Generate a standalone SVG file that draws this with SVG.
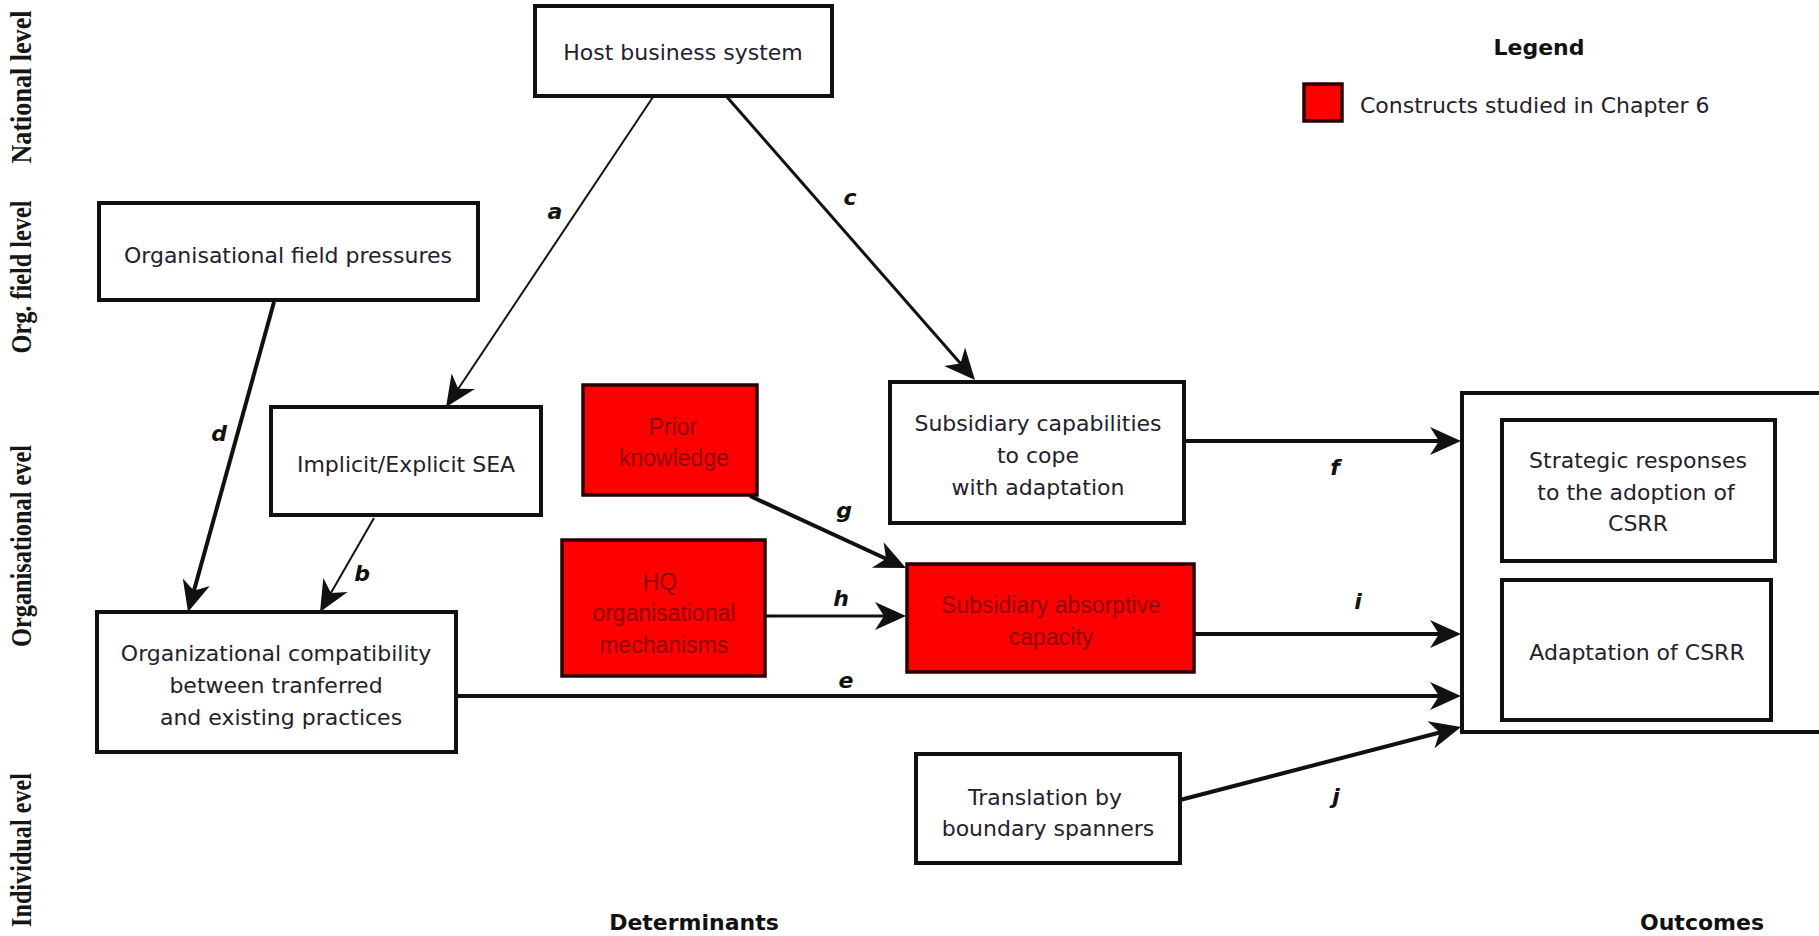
<svg xmlns="http://www.w3.org/2000/svg" width="1819" height="936" viewBox="0 0 1819 936">
  <style>
    .box { fill: #ffffff; stroke: #111111; stroke-width: 4; }
    .red { fill: #ff0000; stroke: #2a0000; stroke-width: 3.5; }
    .t { font-family: "DejaVu Sans", Verdana, sans-serif; font-size: 22px; fill: #24202c; text-anchor: middle; dominant-baseline: central; }
    .rt { font-family: "Liberation Sans", Arial, sans-serif; font-size: 23px; fill: #8e0000; text-anchor: middle; dominant-baseline: central; }
    .lbl { font-family: "DejaVu Sans", Verdana, sans-serif; font-size: 22px; font-weight: bold; font-style: italic; fill: #111111; text-anchor: middle; dominant-baseline: central; }
    .lvl { font-family: "Liberation Serif", "Times New Roman", serif; font-size: 23px; font-weight: bold; fill: #161616; text-anchor: middle; dominant-baseline: central; }
    .hd { font-family: "DejaVu Sans", Verdana, sans-serif; font-size: 22px; font-weight: bold; fill: #111111; text-anchor: middle; dominant-baseline: central; }
    .conn { stroke: #111111; fill: none; }
  </style>
  <defs>
    <marker id="arrow" markerUnits="userSpaceOnUse" viewBox="-40 -20 50 40" refX="-10" refY="0" markerWidth="50" markerHeight="40" orient="auto">
      <path d="M0,0 L-31,-14 L-22,0 L-31,14 Z" fill="#111111"/>
    </marker>
  </defs>

  <rect width="1819" height="936" fill="#ffffff"/>

  <!-- level labels down the left margin -->
  <g id="levels">
    <text class="lvl" transform="translate(22,87) rotate(-90) scale(1,1.25)" textLength="153" lengthAdjust="spacingAndGlyphs">National level</text>
    <text class="lvl" transform="translate(22,277) rotate(-90) scale(1,1.25)" textLength="153" lengthAdjust="spacingAndGlyphs">Org. field level</text>
    <text class="lvl" transform="translate(22,546) rotate(-90) scale(1,1.25)" textLength="202" lengthAdjust="spacingAndGlyphs">Organisational evel</text>
    <text class="lvl" transform="translate(22,850) rotate(-90) scale(1,1.25)" textLength="154" lengthAdjust="spacingAndGlyphs">Individual evel</text>
  </g>

  <!-- connectors -->
  <g id="connectors">
    <line class="conn" stroke-width="2" x1="653" y1="97" x2="451.6" y2="398.7" marker-end="url(#arrow)"/>
    <line class="conn" stroke-width="3" x1="727" y1="97" x2="968.4" y2="372.5" marker-end="url(#arrow)"/>
    <line class="conn" stroke-width="4" x1="274" y1="302" x2="190.7" y2="602.4" marker-end="url(#arrow)"/>
    <line class="conn" stroke-width="2" x1="374" y1="518" x2="325" y2="603.3" marker-end="url(#arrow)"/>
    <line class="conn" stroke-width="4" x1="458" y1="696" x2="1451" y2="696" marker-end="url(#arrow)"/>
    <line class="conn" stroke-width="4" x1="1184" y1="441" x2="1451" y2="441" marker-end="url(#arrow)"/>
    <line class="conn" stroke-width="4" x1="750" y1="496" x2="896.9" y2="563.8" marker-end="url(#arrow)"/>
    <line class="conn" stroke-width="3" x1="765" y1="616" x2="896" y2="616" marker-end="url(#arrow)"/>
    <line class="conn" stroke-width="4" x1="1194" y1="634" x2="1451" y2="634" marker-end="url(#arrow)"/>
    <line class="conn" stroke-width="4" x1="1180" y1="800" x2="1451.3" y2="729.5" marker-end="url(#arrow)"/>
    <text class="lbl" x="555" y="211">a</text>
    <text class="lbl" x="362" y="573">b</text>
    <text class="lbl" x="850" y="197">c</text>
    <text class="lbl" x="219" y="433">d</text>
    <text class="lbl" x="846" y="680">e</text>
    <text class="lbl" x="1335" y="467">f</text>
    <text class="lbl" x="844" y="510">g</text>
    <text class="lbl" x="841" y="598">h</text>
    <text class="lbl" x="1358" y="601">i</text>
    <text class="lbl" x="1336" y="796">j</text>
  </g>

  <g id="host-business-system">
    <rect class="box" x="535" y="6" width="297" height="90"/>
    <text class="t" x="683" y="52">Host business system</text>
  </g>

  <g id="organisational-field-pressures">
    <rect class="box" x="99" y="203" width="379" height="97"/>
    <text class="t" x="288" y="255">Organisational field pressures</text>
  </g>

  <g id="implicit-explicit-sea">
    <rect class="box" x="271" y="407" width="270" height="108"/>
    <text class="t" x="406" y="464">Implicit/Explicit SEA</text>
  </g>

  <g id="organizational-compatibility">
    <rect class="box" x="97" y="612" width="359" height="140"/>
    <text class="t" x="276" y="653">Organizational compatibility</text>
    <text class="t" x="276" y="685">between tranferred</text>
    <text class="t" x="281" y="717">and existing practices</text>
  </g>

  <g id="prior-knowledge">
    <rect class="red" x="583" y="385" width="174" height="110"/>
    <text class="rt" x="673" y="427">Prior</text>
    <text class="rt" x="674" y="458">knowledge</text>
  </g>

  <g id="hq-organisational-mechanisms">
    <rect class="red" x="562" y="540" width="203" height="136"/>
    <text class="rt" x="660" y="582">HQ</text>
    <text class="rt" x="664" y="613">organisational</text>
    <text class="rt" x="664" y="645">mechanisms</text>
  </g>

  <g id="subsidiary-capabilities">
    <rect class="box" x="890" y="382" width="294" height="141"/>
    <text class="t" x="1038" y="423">Subsidiary capabilities</text>
    <text class="t" x="1038" y="455">to cope</text>
    <text class="t" x="1038" y="487">with adaptation</text>
  </g>

  <g id="subsidiary-absorptive-capacity">
    <rect class="red" x="907" y="564" width="287" height="108"/>
    <text class="rt" x="1051" y="605">Subsidiary absorptive</text>
    <text class="rt" x="1051" y="637">capacity</text>
  </g>

  <g id="translation-by-boundary-spanners">
    <rect class="box" x="916" y="754" width="264" height="109"/>
    <text class="t" x="1045" y="797">Translation by</text>
    <text class="t" x="1048" y="828">boundary spanners</text>
  </g>

  <g id="outcomes">
    <rect class="box" x="1462" y="393" width="380" height="339"/>
    <g id="strategic-responses">
      <rect class="box" x="1502" y="420" width="273" height="141"/>
      <text class="t" x="1638" y="460">Strategic responses</text>
      <text class="t" x="1636" y="492">to the adoption of</text>
      <text class="t" x="1638" y="523">CSRR</text>
    </g>
    <g id="adaptation-of-csrr">
      <rect class="box" x="1502" y="580" width="269" height="140"/>
      <text class="t" x="1637" y="652">Adaptation of CSRR</text>
    </g>
  </g>

  <g id="legend">
    <text class="hd" x="1539" y="47">Legend</text>
    <rect class="red" x="1304" y="84" width="38" height="37" stroke="#111111"/>
    <text class="t" x="1360" y="105" style="text-anchor: start">Constructs studied in Chapter 6</text>
  </g>

  <g id="axis-titles">
    <text class="hd" x="694" y="922">Determinants</text>
    <text class="hd" x="1702" y="922">Outcomes</text>
  </g>
</svg>
